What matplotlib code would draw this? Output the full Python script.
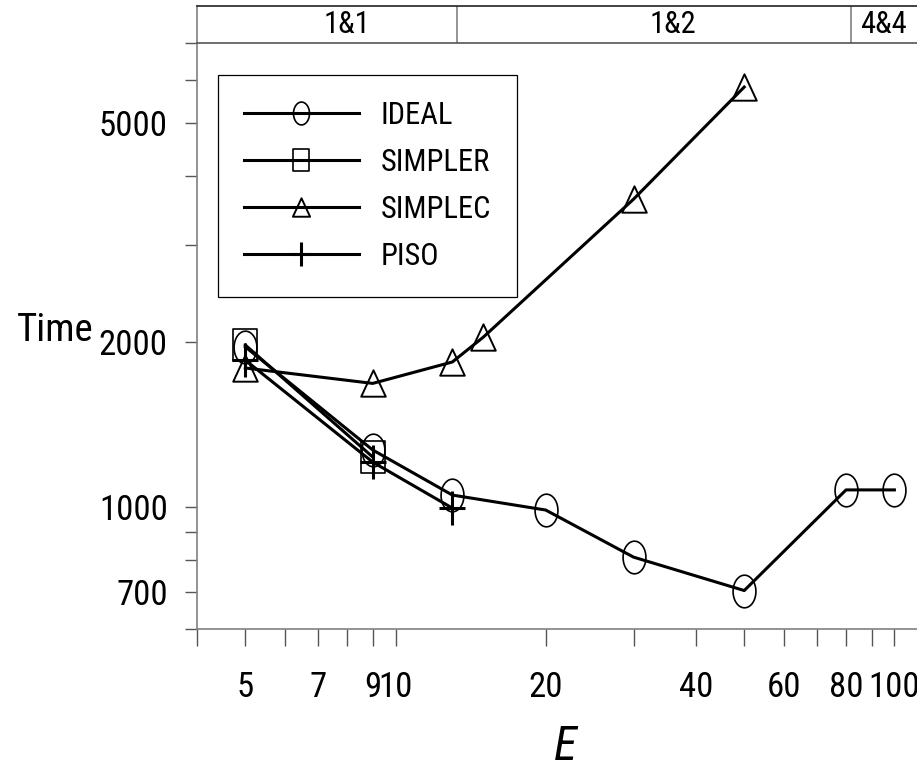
import matplotlib
matplotlib.use("Agg")
import matplotlib.pyplot as plt
from matplotlib.path import Path
import numpy as np
import logging

logging.getLogger('matplotlib.font_manager').setLevel(logging.ERROR)

# ---------------------------------------------------------------
# data
# ---------------------------------------------------------------
e_ideal = [5, 9, 13, 20, 30, 50, 80, 100]
t_ideal = [1958, 1271, 1052, 988, 811, 705, 1075, 1075]

e_simpler = [5, 9]
t_simpler = [1973, 1234]

e_simplec = [5, 9, 13, 15, 30, 50]
t_simplec = [1792, 1680, 1838, 2040, 3637, 5820]

e_piso = [5, 9, 13]
t_piso = [1852, 1208, 996]

xticks_major = [5, 7, 9, 10, 20, 40, 60, 80, 100]
xticks_minor = [4, 6, 8, 30, 50, 70, 90]
yticks_major = [700, 1000, 2000, 5000]
yticks_minor = [600, 800, 900, 3000, 4000, 6000, 7000]

band_labels = ['1&1', '1&2', '4&4']
band_label_pos = [8, 36, 95]
band_dividers = [13.3, 82]

# ---------------------------------------------------------------
# narrow sans first, plain Arial-metric sans as fallback
plt.rcParams['font.family'] = ['Liberation Sans Narrow', 'Arial Narrow', 'Roboto Condensed',
                               'Archivo Narrow', 'PT Sans Narrow', 'Liberation Sans',
                               'DejaVu Sans']

# stretched marker shapes (the original figure is taller than wide)
th = np.linspace(0, 2 * np.pi, 61)
m_circle = Path(np.c_[0.7 * np.cos(th), np.sin(th)], closed=True)
m_square = Path([(-0.75, -1), (0.75, -1), (0.75, 1), (-0.75, 1), (-0.75, -1)], closed=True)
m_tri = Path([(0, 1), (-0.93, -1), (0.93, -1), (0, 1)], closed=True)
m_plus = Path([(-0.74, 0), (0.74, 0), (0, -1), (0, 1)],
              [Path.MOVETO, Path.LINETO, Path.MOVETO, Path.LINETO])

W, H = 917, 771
fig = plt.figure(figsize=(W / 100, H / 100), dpi=100)

left, right = 197 / W, 1.0
bottom, top = 1 - 629 / H, 1 - 43 / H
ax = fig.add_axes([left, bottom, right - left, top - bottom])
ax.set_xscale('log')
ax.set_yscale('log')

lw = 2.2
ax.plot(e_ideal, t_ideal, color='black', lw=lw, marker=m_circle, ms=23.5,
        mfc='none', mec='black', mew=1.2, label='IDEAL')
ax.plot(e_simpler, t_simpler, color='black', lw=lw, marker=m_square, ms=23,
        mfc='none', mec='black', mew=1.2, label='SIMPLER')
ax.plot(e_simplec, t_simplec, color='black', lw=lw, marker=m_tri, ms=19,
        mfc='none', mec='black', mew=1.4, label='SIMPLEC')
ax.plot(e_piso, t_piso, color='black', lw=lw, marker=m_plus, ms=24.5,
        mfc='none', mec='black', mew=2.2, label='PISO')

ax.set_xlim(4, 111)
ax.set_ylim(600, 7000)

ax.set_xticks(xticks_major)
ax.set_xticklabels([str(v) for v in xticks_major])
ax.set_xticks(xticks_minor, minor=True)
ax.set_xticklabels([], minor=True)
ax.set_yticks(yticks_major)
ax.set_yticklabels([str(v) for v in yticks_major])
ax.set_yticks(yticks_minor, minor=True)
ax.set_yticklabels([], minor=True)

ax.tick_params(axis='x', which='both', direction='out', length=12, width=1,
               color='#555555', pad=18, labelsize=25)
ax.tick_params(axis='y', which='both', direction='out', length=9, width=1,
               color='#555555', pad=12, labelsize=25)

for s in ['top', 'right']:
    ax.spines[s].set_visible(False)
for s in ['left', 'bottom']:
    ax.spines[s].set_color('#808080')
    ax.spines[s].set_linewidth(1.2)

ax.set_ylabel('Time', rotation=0, fontsize=28, ha='center', va='center')
ax.yaxis.set_label_coords(-0.197, 0.51)
ax.set_xlabel('E', fontsize=34, style='italic', ha='center', va='center')
ax.xaxis.set_label_coords(0.511, -0.201)

leg = ax.legend(loc='upper left', bbox_to_anchor=(218 / W, 1 - 75 / H),
                bbox_transform=fig.transFigure, borderaxespad=0,
                fontsize=22, handlelength=3.76, handletextpad=0.72,
                labelspacing=0.59, borderpad=0.85, markerscale=0.7,
                fancybox=False, framealpha=1, numpoints=1)
leg.get_frame().set_edgecolor('black')
leg.get_frame().set_linewidth(0.9)

# --- top band with the grid configurations ---
band = fig.add_axes([left, top, right - left, (1 - 6 / H) - top])
band.set_xscale('log')
band.set_xlim(4, 111)
band.set_ylim(0, 1)
band.set_xticks([])
band.set_yticks([])
band.minorticks_off()
band.spines['right'].set_visible(False)
band.spines['top'].set_color('#222222')
band.spines['bottom'].set_color('#555555')
band.spines['left'].set_color('#808080')
for s in ['top', 'bottom', 'left']:
    band.spines[s].set_linewidth(1.2)
for xd in band_dividers:
    band.axvline(xd, color='#808080', lw=1.2)
for lab, xp in zip(band_labels, band_label_pos):
    band.text(xp, 0.5, lab, ha='center', va='center', fontsize=22)

fig.savefig('out.png', dpi=100)
